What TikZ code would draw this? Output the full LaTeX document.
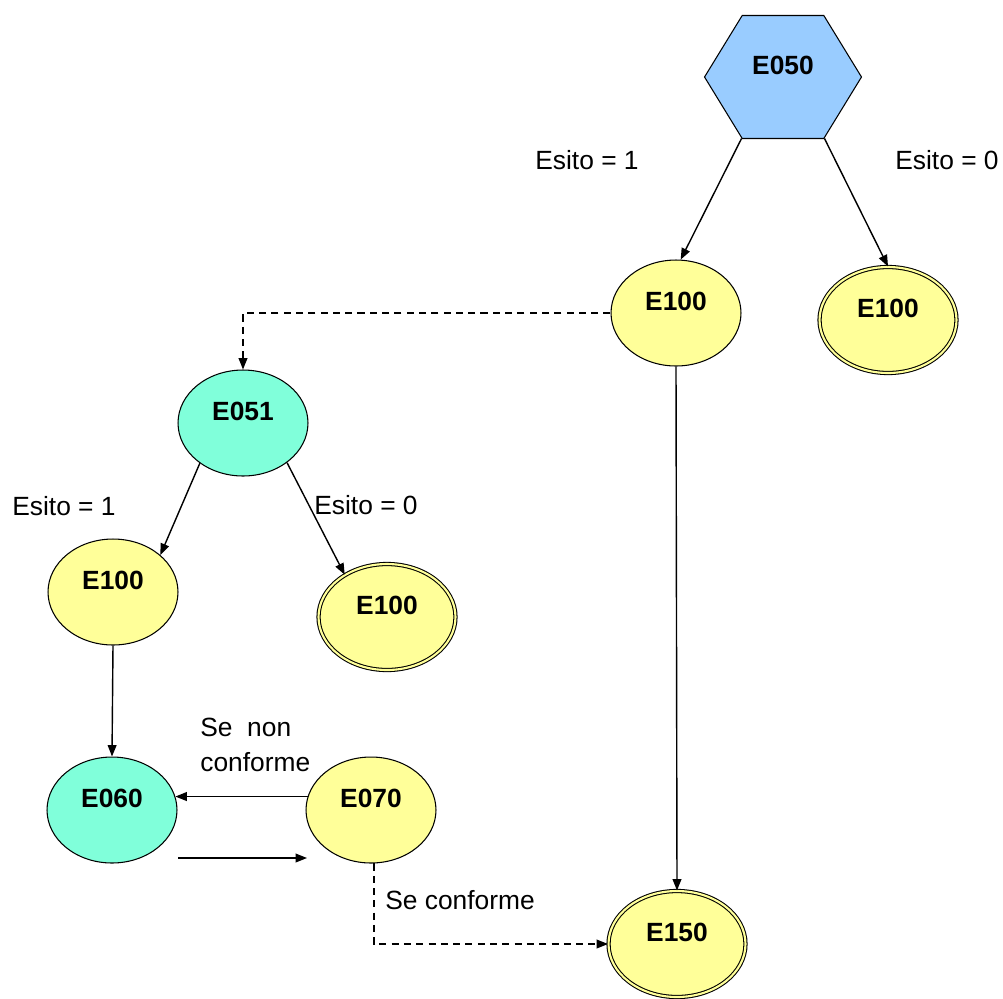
\documentclass[tikz,border=0pt]{standalone}
\usepackage{fontspec}
\setmainfont{Liberation Sans}
\usetikzlibrary{arrows.meta,shapes.geometric,shapes.symbols}
\definecolor{stateyellow}{RGB}{255,255,153}
\definecolor{statecyan}{RGB}{128,255,218}
\definecolor{stateblue}{RGB}{153,204,255}
\tikzset{
 state/.style={ellipse,draw,line width=.6pt,inner sep=0pt,
  minimum width=2.6cm,minimum height=2.12cm,text height=.25cm,text depth=.37cm,
  font=\fontsize{15}{18}\selectfont\bfseries},
 yellowstate/.style={state,fill=stateyellow},
 cyanstate/.style={state,fill=statecyan},
 finalstate/.style={yellowstate,double=stateyellow,double distance=1.2pt,minimum width=2.74cm},
 startstate/.style={state,signal,signal to=east and west,signal pointer angle=117,
  fill=stateblue,minimum width=3.14cm,minimum height=2.46cm},
 edgelabel/.style={font=\fontsize{15}{19.8}\selectfont,inner sep=0pt},
 flow/.style={-{Triangle[length=6.5pt,width=5pt]},line width=.8pt},
 dashflow/.style={flow,dash pattern=on 4pt off 3pt}
}
\begin{document}
\begin{tikzpicture}[x=.02cm,y=-.02cm,line cap=butt,line join=miter]
 \useasboundingbox (0,0) rectangle (1003,998);
 \node[startstate] (e050) at (783,77) {E050};
 \node[yellowstate] (e100a) at (676,313) {E100};
 \node[finalstate] (e100b) at (888,320) {E100};
 \node[cyanstate] (e051) at (243,423) {E051};
 \node[yellowstate] (e100c) at (113,592) {E100};
 \node[finalstate] (e100d) at (387,617) {E100};
 \node[cyanstate] (e060) at (112,810) {E060};
 \node[yellowstate] (e070) at (371,810) {E070};
 \node[finalstate] (e150) at (677,944) {E150};
 \coordinate (loopa) at (178,858); \coordinate (loopb) at (307,858);
 \draw[flow] (e050.236) -- (e100a.85);
 \draw[flow] (e050.304) -- (e100b.north);
 \draw[dashflow] (e100a.west) -| (e051.north);
 \draw[flow] (e100a.south) -- (e150.north);
 \draw[flow] (e051.223) -- (e100c.38);
 \draw[flow] (e051.318) -- (e100d.135);
 \draw[flow] (e100c.south) -- (e060.north);
 \draw[flow] (e070.168) -- (e060.12);
 \draw[flow] (loopa) -- (loopb);
 \draw[dashflow] (e070.273) |- (e150.west);
 \node[edgelabel] (lab1) at (587,160) {Esito = 1};
 \node[edgelabel] (lab2) at (947,160) {Esito = 0};
 \node[edgelabel] (lab3) at (64,506) {Esito = 1};
 \node[edgelabel] (lab4) at (366,505) {Esito = 0};
 \node[edgelabel,align=left,anchor=west] (lab5) at (200,745) {Se\ \ non\\conforme};
 \node[edgelabel,anchor=west] (lab6) at (385,900) {Se conforme};
\end{tikzpicture}
\end{document}
